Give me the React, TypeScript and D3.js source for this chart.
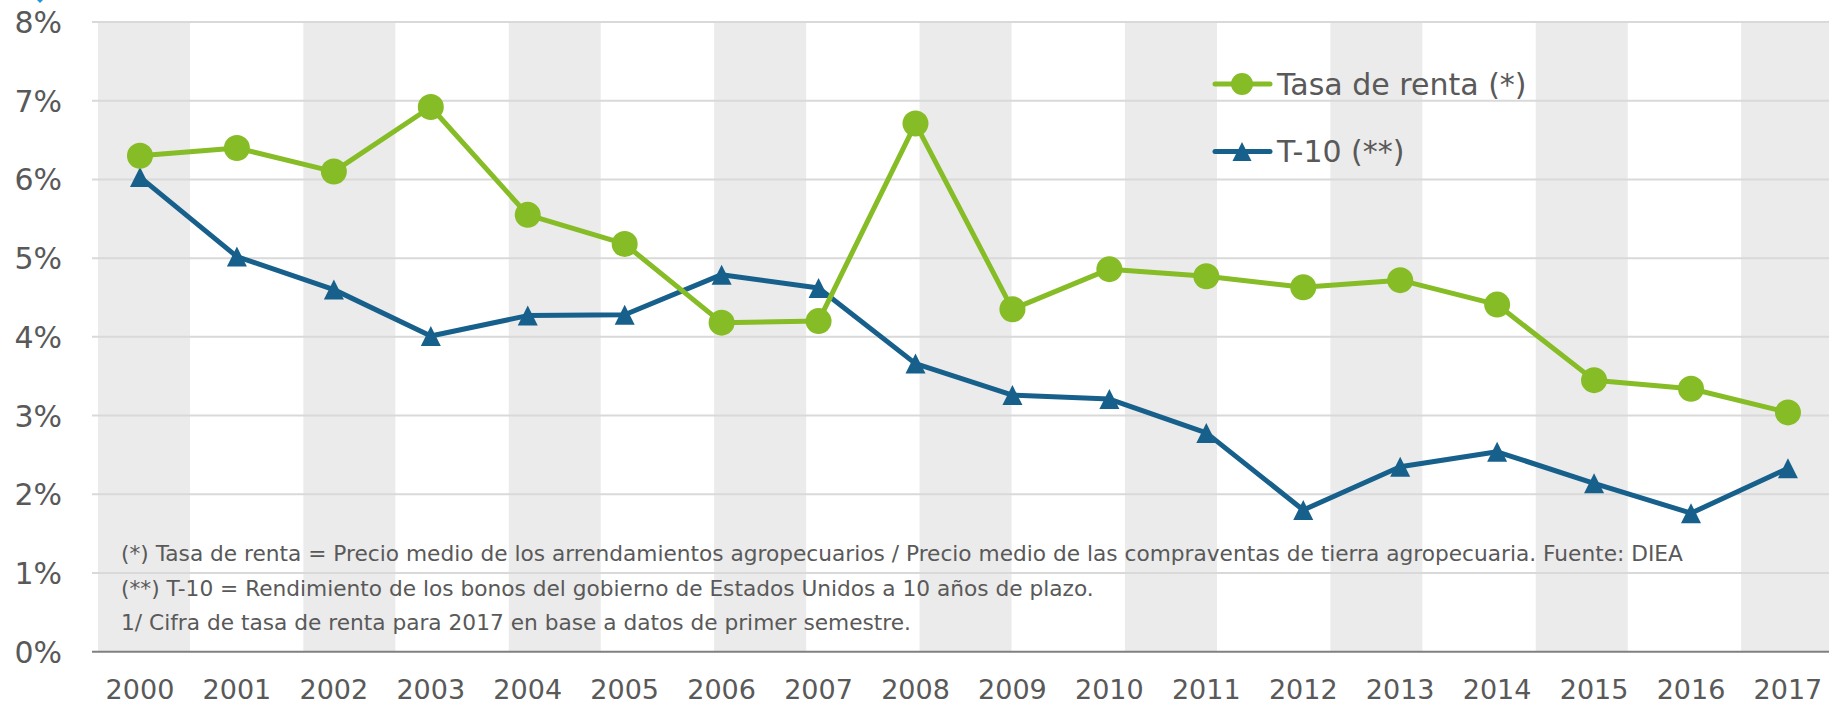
import React from "react";
import * as d3 from "d3";

const years = ["2000", "2001", "2002", "2003", "2004", "2005", "2006", "2007", "2008", "2009", "2010", "2011", "2012", "2013", "2014", "2015", "2016", "2017"];
const tasaRenta = [6.3, 6.4, 6.1, 6.92, 5.55, 5.18, 4.18, 4.2, 6.71, 4.35, 4.86, 4.77, 4.63, 4.72, 4.41, 3.45, 3.34, 3.04];
const t10 = [6.03, 5.02, 4.6, 4.01, 4.27, 4.28, 4.79, 4.62, 3.66, 3.26, 3.21, 2.78, 1.8, 2.35, 2.54, 2.14, 1.76, 2.33];
const yTicks = [0, 1, 2, 3, 4, 5, 6, 7, 8];
// background column series (alternating shaded slots)
const bandSlots = ["s0", "s1", "s2", "s3", "s4", "s5", "s6", "s7", "s8", "s9", "s10", "s11", "s12", "s13", "s14", "s15", "s16", "s17"];
const shadedSlots = ["s0", "s2", "s4", "s6", "s8", "s10", "s12", "s14", "s16"];
const legendItems = ["Tasa de renta (*)", "T-10 (**)"];
const notes = [
    "(*) Tasa de renta = Precio medio de los arrendamientos agropecuarios / Precio medio de las compraventas de tierra agropecuaria. Fuente: DIEA",
    "(**) T-10 = Rendimiento de los bonos del gobierno de Estados Unidos a 10 años de plazo.",
    "1/ Cifra de tasa de renta para 2017 en base a datos de primer semestre.",
];

const GREEN = "#86bc25";
const BLUE = "#17608c";
const TEXT = "#595959";
const FONT = "'DejaVu Sans', Verdana, sans-serif";

const App = () => {
    const width = 1829;
    const height = 704;
    const left = 92;

    const y = d3.scaleLinear().domain([0, 8]).range([651.7, 22]);
    const x = d3.scaleBand().domain(years).range([91.5, 91.5 + 18 * 96.94]).padding(0);
    const xc = (yr: string) => (x(yr) as number) + x.bandwidth() / 2;
    const bx = d3.scaleBand().domain(bandSlots).range([92.6, 92.6 + 18 * 102.7]).padding(0);
    const barW = bx.bandwidth() * 0.896;

    const line = d3.line<number>()
        .x((_, i) => xc(years[i]))
        .y((d) => y(d));

    const tri = "M0,-10L10,10L-10,10Z";

    return (
        <svg width={width} height={height} style={{ position: "absolute", left: 0, top: 0, background: "white" }} fontFamily={FONT}>
            {/* shaded columns */}
            {shadedSlots.map((s) => (
                <rect key={s} x={(bx(s) as number) + (bx.bandwidth() - barW) / 2} y={y(8)} width={barW} height={y(0) - y(8)} fill="#ebebeb" />
            ))}

            {/* gridlines */}
            {yTicks.filter((t) => t > 0).map((t) => (
                <line key={t} x1={left} x2={width} y1={y(t)} y2={y(t)} stroke="#d9d9d9" strokeWidth={2} />
            ))}
            <line x1={left} x2={width} y1={y(0)} y2={y(0)} stroke="#808080" strokeWidth={2} />

            {/* y labels */}
            {yTicks.map((t) => (
                <text key={t} x={62} y={y(t) + 11} textAnchor="end" fontSize={30} fill={TEXT}>{t}%</text>
            ))}

            {/* x labels */}
            {years.map((yr) => (
                <text key={yr} x={xc(yr)} y={699} textAnchor="middle" fontSize={27} fill={TEXT}>{yr}</text>
            ))}

            {/* footnotes */}
            {notes.map((n, i) => (
                <text key={i} x={121} y={561 + i * 34.7} fontSize={21.7} fill={TEXT}>{n}</text>
            ))}

            {/* series */}
            <path d={line(t10) || ""} fill="none" stroke={BLUE} strokeWidth={5} strokeLinejoin="round" />
            {t10.map((v, i) => (
                <path key={i} d={tri} transform={`translate(${xc(years[i])},${y(v)})`} fill={BLUE} />
            ))}
            <path d={line(tasaRenta) || ""} fill="none" stroke={GREEN} strokeWidth={5} strokeLinejoin="round" />
            {tasaRenta.map((v, i) => (
                <circle key={i} cx={xc(years[i])} cy={y(v)} r={13} fill={GREEN} />
            ))}

            {/* legend */}
            <line x1={1215} x2={1270} y1={84} y2={84} stroke={GREEN} strokeWidth={5} strokeLinecap="round" />
            <circle cx={1242} cy={84} r={11} fill={GREEN} />
            <text x={1277} y={94.5} fontSize={30} fill={TEXT}>{legendItems[0]}</text>
            <line x1={1215} x2={1270} y1={151.5} y2={151.5} stroke={BLUE} strokeWidth={5} strokeLinecap="round" />
            <path d={tri} transform="translate(1242,151.5) scale(0.95)" fill={BLUE} />
            <text x={1277} y={161.5} fontSize={30} fill={TEXT}>{legendItems[1]}</text>

            {/* partial icon at top */}
            <path d="M33,-4L40,3L47,-4Z" fill="#1e96dc" />
        </svg>
    );
};

export default App;
